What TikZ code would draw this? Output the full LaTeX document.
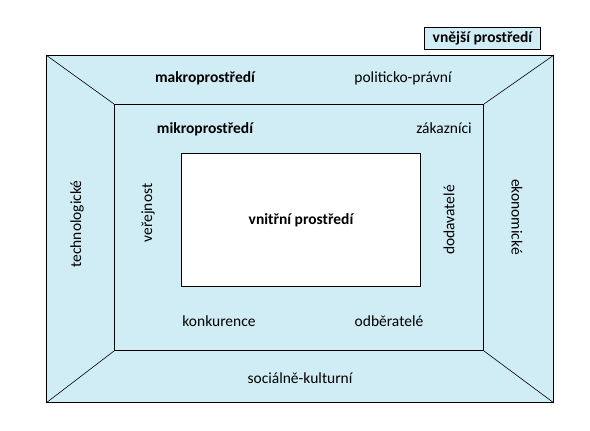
\documentclass[tikz,border=0pt]{standalone}
\usepackage{fontspec}
\setmainfont{Carlito}
\definecolor{envblue}{RGB}{208,236,244}
\begin{document}
\begin{tikzpicture}[x=1pt,y=-1pt,
  box/.style={draw=black,line width=1pt,fill=envblue,inner sep=0pt,anchor=north west},
  lbl/.style={font=\fontsize{15.5}{18}\selectfont,inner sep=0pt},
  blbl/.style={lbl,font=\fontsize{15.5}{18}\selectfont\bfseries},
  diag/.style={draw=black,line width=0.6pt}]
\useasboundingbox (0,0) rectangle (590,431);
\node[box,minimum width=507pt,minimum height=347pt] (outer) at (46,55) {};
\node[box,minimum width=369pt,minimum height=246pt] (inner) at (114,104) {};
\node[box,fill=white,minimum width=239pt,minimum height=133pt] (core) at (181,153) {};
\draw[diag] (outer.north west) -- (inner.north west);
\draw[diag] (outer.north east) -- (inner.north east);
\draw[diag] (outer.south west) -- (inner.south west);
\draw[diag] (outer.south east) -- (inner.south east);
\node[box,minimum width=116pt,minimum height=22pt] (vnejsibox) at (424,27) {};
\node[blbl] (vnejsi) at (vnejsibox.center) {vnější prostředí};
\node[blbl] (makro) at (205,78) {makroprostředí};
\node[lbl] (polit) at (403,78) {politicko-právní};
\node[blbl] (mikro) at (205,129) {mikroprostředí};
\node[lbl] (zak) at (444,128) {zákazníci};
\node[blbl] (vnitrni) at (core.center) {vnitřní prostředí};
\node[lbl,rotate=90] (verej) at (148,213) {veřejnost};
\node[lbl,rotate=90] (dodav) at (449,220) {dodavatelé};
\node[lbl,rotate=90] (techno) at (77,224) {technologické};
\node[lbl,rotate=-90] (ekon) at (517,217) {ekonomické};
\node[lbl] (konk) at (219,321) {konkurence};
\node[lbl] (odber) at (389,321) {odběratelé};
\node[lbl] (soc) at (300,378) {sociálně-kulturní};
\end{tikzpicture}
\end{document}
